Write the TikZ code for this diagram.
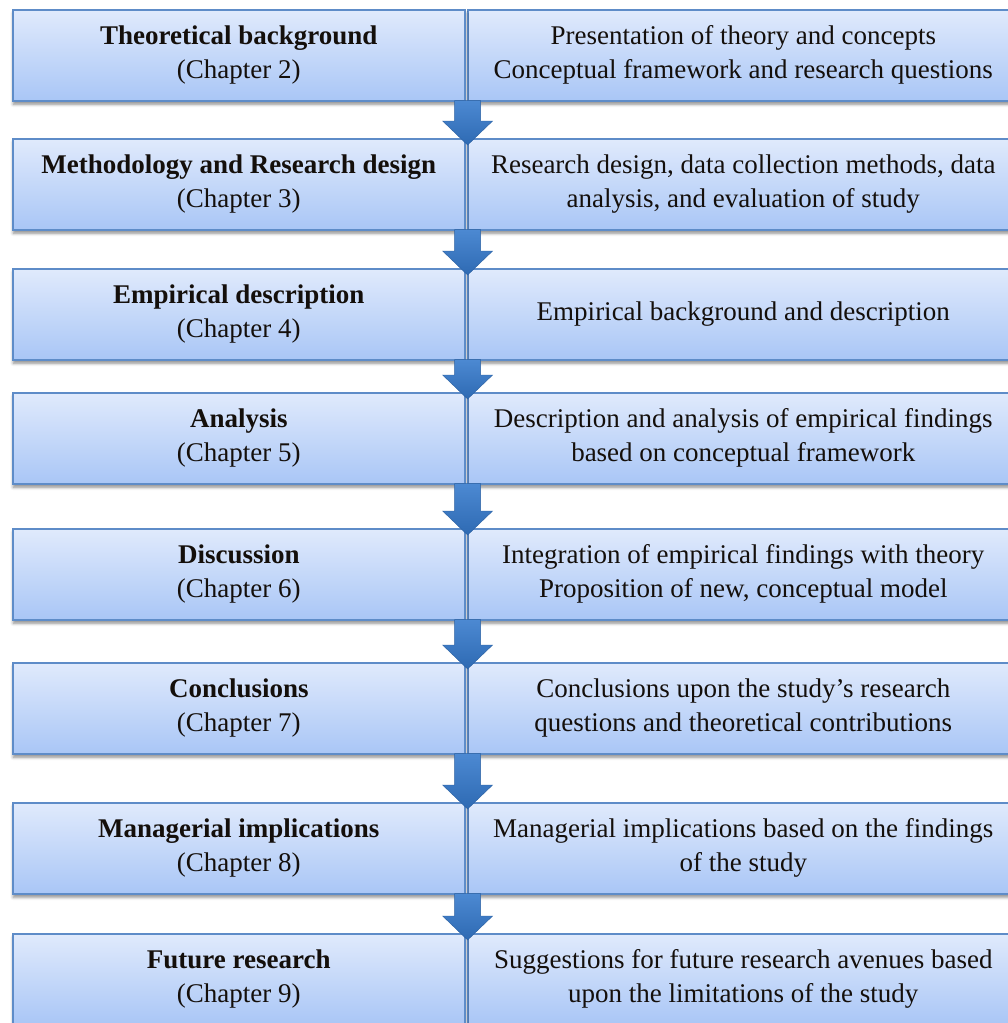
\documentclass[tikz,border=0pt]{standalone}
\usepackage{fontspec}
\setmainfont{Liberation Serif}
\usetikzlibrary{calc,shadows.blur}

\definecolor{boxtop}{HTML}{E0EAFC}
\definecolor{boxbot}{HTML}{A9C6F6}
\definecolor{boxline}{HTML}{5E8CC8}
\definecolor{arrtop}{HTML}{4C89D2}
\definecolor{arrbot}{HTML}{2E6AB3}
\definecolor{ink}{HTML}{140F0B}

\tikzset{
  chapbox/.style={draw=boxline, line width=1.6pt, top color=boxtop, bottom color=boxbot,
    anchor=north west, minimum height=91pt, inner sep=0pt, align=center, text=ink,
    font=\fontsize{27}{34}\selectfont,
    blur shadow={shadow xshift=0.5pt, shadow yshift=-3.5pt, shadow blur radius=3pt, shadow opacity=45}},
  leftbox/.style={chapbox, minimum width=452pt},
  rightbox/.style={chapbox, minimum width=551pt},
  flowarrow/.style={top color=arrtop, bottom color=arrbot, draw=arrbot!90!black, line width=0.4pt}
}

\begin{document}
\begin{tikzpicture}[x=1pt, y=-1pt]
  \useasboundingbox (0,0) rectangle (1008,1023);
  \clip (0,0) rectangle (1008,1023);

  % one row per chapter: left = chapter title, right = contents
  \foreach \i/\top/\ltxt/\rtxt in {
    1/9/{\textbf{Theoretical background}\\(Chapter 2)}/{Presentation of theory and concepts\\Conceptual framework and research questions},
    2/138/{\textbf{Methodology and Research design}\\(Chapter 3)}/{Research design, data collection methods, data\\analysis, and evaluation of study},
    3/268/{\textbf{Empirical description}\\(Chapter 4)}/{Empirical background and description},
    4/392/{\textbf{Analysis}\\(Chapter 5)}/{Description and analysis of empirical findings\\based on conceptual framework},
    5/528/{\textbf{Discussion}\\(Chapter 6)}/{Integration of empirical findings with theory\\Proposition of new, conceptual model},
    6/662/{\textbf{Conclusions}\\(Chapter 7)}/{Conclusions upon the study’s research\\questions and theoretical contributions},
    7/802/{\textbf{Managerial implications}\\(Chapter 8)}/{Managerial implications based on the findings\\of the study},
    8/933/{\textbf{Future research}\\(Chapter 9)}/{Suggestions for future research avenues based\\upon the limitations of the study}}
  {
    \node[rightbox] (R\i) at (467,\top) {\rtxt};
    \node[leftbox] (L\i) at (12,\top) {\ltxt};
  }

  % downward block arrows between consecutive rows
  \foreach \i [evaluate=\i as \j using int(\i+1)] in {1,...,7} {
    \path let \p1=(L\i.south east), \p2=(L\j.north east) in
      [flowarrow]
      ({\x1+2pt-13pt},{\y1+1pt}) -- ({\x1+2pt+13pt},{\y1+1pt})
      -- ({\x1+2pt+13pt},{\y2+17pt}) -- ({\x1+2pt+25pt},{\y2+17pt})
      -- ({\x1+2pt},{\y2-7pt})
      -- ({\x1+2pt-25pt},{\y2+17pt}) -- ({\x1+2pt-13pt},{\y2+17pt}) -- cycle;
  }
\end{tikzpicture}
\end{document}
